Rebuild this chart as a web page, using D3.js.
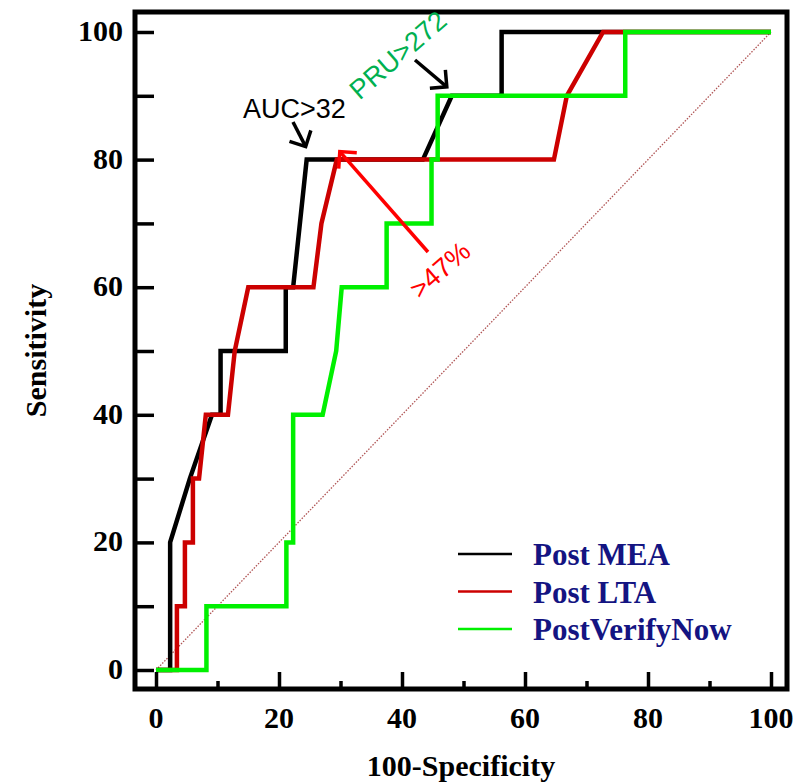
<!DOCTYPE html>
<html>
<head>
<meta charset="utf-8">
<script src="https://cdn.jsdelivr.net/npm/d3@7"></script>
<style>
    body { margin: 0; background: #fff; }
    svg { display: block; }
</style>
</head>
<body>
<div id="chart"></div>
<script>
// data (x = 100-specificity, y = sensitivity)
const meaX = [0, 2.3, 2.3, 5.5, 9.1, 10.5, 10.5, 21.1, 21.1, 22.3, 24.5, 43.4, 48.1, 56.2, 56.2, 100];
const meaY = [0, 0, 20, 30, 40, 40, 50, 50, 60, 60, 80, 80, 90, 90, 100, 100];
const ltaX = [0, 3.4, 3.4, 4.7, 4.7, 6.0, 6.0, 7.0, 8.1, 11.7, 12.8, 15.0, 25.6, 26.9, 29.4, 64.7, 66.8, 72.7, 100];
const ltaY = [0, 0, 10, 10, 20, 20, 30, 30, 40, 40, 50, 60, 60, 70, 80, 80, 90, 100, 100];
const vnX = [0, 8.2, 8.2, 21.2, 21.2, 22.3, 22.3, 27.1, 29.3, 30.2, 37.5, 37.5, 44.8, 44.8, 45.8, 45.8, 76.3, 76.3, 100];
const vnY = [0, 0, 10, 10, 20, 20, 40, 40, 50, 60, 60, 70, 70, 80, 80, 90, 90, 100, 100];
const seriesNames = ["Post MEA", "Post LTA", "PostVerifyNow"];
const xTicks = [0, 20, 40, 60, 80, 100];
const yTicks = [0, 20, 40, 60, 80, 100];
const cutLabels = ["AUC>32", "PRU>272", ">47%"];

const W = 806, H = 783;
const frame = {left: 135, right: 787, top: 12, bottom: 689};
const colors = ["#000000", "#cc0000", "#00f000"];

const x = d3.scaleLinear().domain([0, 100]).range([156, 771]);
const y = d3.scaleLinear().domain([0, 100]).range([670, 32]);

const svg = d3.select("#chart").append("svg")
    .attr("width", W)
    .attr("height", H);

function buildAxes() {
    const serif = "'Liberation Serif', 'Times New Roman', serif";
    // y ticks, all same length, every 10
    const yAxis = d3.axisLeft(y).tickValues(d3.range(0, 101, 10))
        .tickSize(-19).tickFormat("");
    const ga = svg.append("g").attr("transform", `translate(${frame.left},0)`).call(yAxis);
    ga.select(".domain").remove();

    // x ticks: long on 20s, short on 10s
    const gx = svg.append("g").attr("transform", `translate(0,${frame.bottom})`);
    gx.call(d3.axisBottom(x).tickValues(d3.range(10, 100, 20)).tickSize(-8).tickFormat(""));
    gx.select(".domain").remove();
    const gx2 = svg.append("g").attr("transform", `translate(0,${frame.bottom})`);
    gx2.call(d3.axisBottom(x).tickValues(xTicks).tickSize(-17).tickFormat(""));
    gx2.select(".domain").remove();
    svg.selectAll(".tick line").attr("stroke", "#000").attr("stroke-width", 3.5);

    svg.append("g").selectAll("text").data(yTicks).join("text")
        .attr("x", 123)
        .attr("y", d => y(d) + 9)
        .attr("text-anchor", "end")
        .attr("font-family", serif).attr("font-weight", "bold").attr("font-size", 30)
        .text(d => d);
    svg.append("g").selectAll("text").data(xTicks).join("text")
        .attr("x", d => x(d))
        .attr("y", 728)
        .attr("text-anchor", "middle")
        .attr("font-family", serif).attr("font-weight", "bold").attr("font-size", 30)
        .text(d => d);

    svg.append("text")
        .attr("transform", `translate(46,${(frame.top + frame.bottom) / 2}) rotate(-90)`)
        .attr("text-anchor", "middle")
        .attr("font-family", serif).attr("font-weight", "bold").attr("font-size", 30)
        .text("Sensitivity");
    svg.append("text")
        .attr("x", (frame.left + frame.right) / 2)
        .attr("y", 776)
        .attr("text-anchor", "middle")
        .attr("font-family", serif).attr("font-weight", "bold").attr("font-size", 30)
        .text("100-Specificity");

    // frame
    svg.append("rect")
        .attr("x", frame.left).attr("y", frame.top)
        .attr("width", frame.right - frame.left)
        .attr("height", frame.bottom - frame.top)
        .attr("fill", "none")
        .attr("stroke", "#000")
        .attr("stroke-width", 5);
}

function buildCurves() {
    // chance line
    svg.append("line")
        .attr("x1", x(0)).attr("y1", y(0))
        .attr("x2", x(100)).attr("y2", y(100))
        .attr("stroke", "#b05555")
        .attr("stroke-width", 1.3)
        .attr("stroke-dasharray", "1.5,1.5");

    const line = d3.line().x(d => x(d[0])).y(d => y(d[1]));
    const all = [d3.zip(meaX, meaY), d3.zip(ltaX, ltaY), d3.zip(vnX, vnY)];
    svg.append("g").selectAll("path").data(all).join("path")
        .attr("d", line)
        .attr("fill", "none")
        .attr("stroke", (d, i) => colors[i])
        .attr("stroke-width", 4.5)
        .attr("stroke-linejoin", "miter");
}

function arrow(x1, y1, x2, y2, color) {
    const a = Math.atan2(y1 - y2, x1 - x2);
    const len = 17;
    const g = svg.append("g")
        .attr("stroke", color)
        .attr("stroke-width", 3.5)
        .attr("fill", "none");
    g.append("line").attr("x1", x1).attr("y1", y1).attr("x2", x2).attr("y2", y2);
    g.append("path").attr("d", d3.line()([
        [x2 + len * Math.cos(a - Math.PI / 4), y2 + len * Math.sin(a - Math.PI / 4)],
        [x2, y2],
        [x2 + len * Math.cos(a + Math.PI / 4), y2 + len * Math.sin(a + Math.PI / 4)]
    ]));
}

function buildNotes() {
    const sans = "'Liberation Sans', Arial, sans-serif";
    svg.append("text")
        .attr("x", 243).attr("y", 118)
        .attr("font-family", sans).attr("font-size", 27)
        .text(cutLabels[0]);
    arrow(293, 122, x(24.5) - 1, y(80) - 13, "#000");

    svg.append("text")
        .attr("transform", "translate(404,62) rotate(-41)")
        .attr("text-anchor", "middle")
        .attr("font-family", sans).attr("font-size", 27)
        .attr("fill", "#00b050")
        .text(cutLabels[1]);
    arrow(415, 60, x(48.1) - 5, y(90) - 9, "#000");

    arrow(428, 252, x(29.4) + 3, y(80) - 8, "#ff0000");
    svg.append("text")
        .attr("transform", "translate(446,277) rotate(-41)")
        .attr("text-anchor", "middle")
        .attr("font-family", sans).attr("font-size", 27)
        .attr("fill", "#ff0000")
        .text(cutLabels[2]);
}

function buildLegend() {
    const serif = "'Liberation Serif', 'Times New Roman', serif";
    const lg = svg.append("g").selectAll("g").data(seriesNames).join("g")
        .attr("transform", (d, i) => `translate(458,${554 + i * 37.5})`);
    lg.append("line")
        .attr("x1", 0).attr("x2", 54)
        .attr("stroke", (d, i) => colors[i])
        .attr("stroke-width", 2.5);
    lg.append("text")
        .attr("x", 75).attr("y", 11)
        .attr("font-family", serif).attr("font-weight", "bold").attr("font-size", 31)
        .attr("fill", "#141482")
        .text(d => d);
}

buildCurves();
buildAxes();
buildNotes();
buildLegend();
</script>
</body>
</html>
